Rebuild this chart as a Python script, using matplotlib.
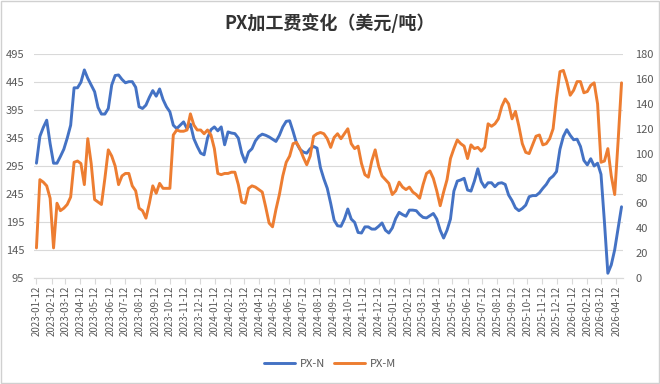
import matplotlib
matplotlib.use('Agg')
import matplotlib.pyplot as plt
import matplotlib.dates as mdates
import pandas as pd
from matplotlib.patches import Rectangle

plt.rcParams['font.family'] = ['Noto Sans CJK SC', 'DejaVu Sans']

title = 'PX加工费变化（美元/吨）'
series_names = ['PX-N', 'PX-M']
start_date = '2023-01-12'
last_tick = '2026-04-12'

# PX-N (left axis), weekly
px_n = [300, 348, 364, 377, 335, 300, 300, 312, 325, 345,
        368, 435, 435, 445, 467, 452, 440, 428, 400, 388,
        388, 398, 440, 457, 458, 450, 444, 446, 446, 436,
        401, 398, 404, 418, 430, 420, 433, 414, 401, 392,
        368, 362, 368, 374, 362, 370, 344, 330, 318, 315,
        345, 360, 365, 358, 365, 333, 356, 354, 353, 345,
        318, 302, 320, 326, 340, 348, 352, 350, 347, 343,
        339, 350, 365, 375, 376, 357, 336, 325, 320, 318,
        326, 330, 327, 292, 272, 255, 228, 198, 188, 187,
        200, 218, 200, 194, 176, 175, 186, 186, 182, 182,
        187, 193, 180, 175, 184, 201, 212, 208, 205, 216,
        216, 215, 208, 203, 202, 206, 210, 200, 180, 166,
        180, 200, 250, 268, 270, 273, 252, 250, 268, 290,
        267, 257, 265, 265, 258, 264, 265, 262, 243, 233,
        220, 215, 219, 225, 240, 242, 242, 247, 255, 262,
        272, 277, 285, 325, 348, 360, 350, 342, 343, 330,
        305, 297, 308, 295, 300, 280, 195, 103, 118, 145,
        184, 222]

# PX-M (right axis), weekly
px_m = [24, 79, 77, 74, 64, 24, 60, 54, 56, 59,
        65, 93, 94, 92, 75, 112, 92, 63, 61, 59,
        80, 103, 98, 90, 75, 82, 84, 84, 74, 70,
        56, 54, 48, 60, 74, 68, 76, 72, 72, 72,
        115, 119, 118, 118, 119, 132, 123, 119, 119, 116,
        119, 115, 104, 84, 83, 84, 84, 85, 85, 75,
        61, 60, 72, 74, 73, 71, 69, 57, 44, 41,
        55, 67, 82, 93, 98, 108, 109, 104, 97, 91,
        98, 114, 116, 117, 116, 112, 105, 113, 116, 112,
        116, 120, 108, 104, 106, 92, 83, 81, 94, 103,
        90, 82, 79, 76, 67, 70, 77, 73, 71, 73,
        69, 67, 64, 75, 84, 86, 80, 70, 58, 69,
        79, 96, 104, 111, 108, 106, 96, 107, 104, 105,
        102, 105, 124, 122, 124, 128, 138, 144, 140, 128,
        134, 122, 108, 101, 100, 107, 114, 115, 107, 108,
        112, 120, 145, 166, 167, 158, 147, 151, 158, 158,
        149, 150, 155, 157, 140, 93, 94, 104, 82, 67,
        110, 157]

left_ticks = [95, 145, 195, 245, 295, 345, 395, 445, 495]
right_ticks = [0, 20, 40, 60, 80, 100, 120, 140, 160, 180]

dates = pd.date_range(start_date, periods=len(px_n), freq='7D')
tick_dates = pd.date_range(start_date, last_tick, freq=pd.DateOffset(months=1))

blue = '#4472C4'
orange = '#ED7D31'
grid_c = '#d9d9d9'
text_c = '#595959'

fig = plt.figure(figsize=(6.6, 3.84), dpi=100)
fig.patches.append(Rectangle((0.002, 0.003), 0.996, 0.994, transform=fig.transFigure,
                             fill=False, edgecolor='#d0d0d0', lw=1))

ax = fig.add_axes([34 / 660, 1 - 277.7 / 384, (623 - 34) / 660, 223.4 / 384])
ax2 = ax.twinx()

l1, = ax.plot(dates, px_n, color=blue, lw=2.1, solid_joinstyle='round', solid_capstyle='round')
l2, = ax2.plot(dates, px_m, color=orange, lw=2.1, solid_joinstyle='round', solid_capstyle='round')

ax.set_ylim(95, 495)
ax.set_yticks(left_ticks)
ax2.set_ylim(0, 180)
ax2.set_yticks(right_ticks)

ax.set_xlim(dates[0] - pd.Timedelta(days=5), dates[0] + pd.Timedelta(days=1200))
ax.set_xticks(tick_dates)
ax.xaxis.set_major_formatter(mdates.DateFormatter('%Y-%m-%d'))

ax.grid(axis='y', color=grid_c, lw=0.8)
ax.set_axisbelow(True)

for a in (ax, ax2):
    for s in ('top', 'left', 'right'):
        a.spines[s].set_visible(False)
    a.spines['bottom'].set_color(grid_c)

ax.tick_params(axis='y', length=0, labelsize=8, labelcolor=text_c, pad=7)
ax2.tick_params(axis='y', length=0, labelsize=8, labelcolor=text_c, pad=9)
ax.tick_params(axis='x', length=4, color=grid_c, labelsize=7, labelcolor=text_c,
               labelrotation=90, pad=2)

fig.text(0.5, 1 - 23 / 384, title, ha='center', va='center', fontsize=13,
         fontweight='bold', color='#333333')

fig.legend([l1, l2], series_names, loc='center', bbox_to_anchor=(330 / 660, 1 - 364 / 384),
           ncol=2, frameon=False, fontsize=8, labelcolor=text_c, handlelength=2.8,
           handletextpad=0.4, columnspacing=0.8)

fig.savefig('out.png', dpi=100)
